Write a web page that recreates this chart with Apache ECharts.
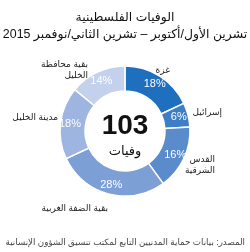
<!DOCTYPE html>
<html>
<head>
<meta charset="utf-8">
<script src="https://cdn.jsdelivr.net/npm/echarts@6/dist/echarts.min.js"></script>
<style>
  html, body { margin: 0; padding: 0; background: #fff; }
  #main { width: 250px; height: 252px; }
</style>
</head>
<body>
<div id="main"></div>
<script>
// regions, clockwise from 12 o'clock
var regions = ['غزة', 'إسرائيل', 'القدس\nالشرقية', 'بقية الضفة الغربية', 'مدينة الخليل', 'بقية محافظة\nالخليل'];
var shares = [18, 6, 16, 28, 18, 14];
var colors = ['#1f6fbf', '#3d7ec6', '#5a8bcb', '#7c9fd6', '#9db5e0', '#c3d1ec'];
var totalDeaths = 103;
var totalLabel = 'وفيات';
var titleLines = ['الوفيات الفلسطينية', 'تشرين الأول/أكتوبر – تشرين الثاني/نوفمبر 2015'];
var sourceText = 'المصدر: بيانات حماية المدنيين التابع لمكتب تنسيق الشؤون الإنسانية';

var font = 'Liberation Sans, DejaVu Sans, sans-serif';
// right edge / middle of each region name
var namePos = [[170, 71], [222, 113], [215, 165], [108, 209], [58, 118], [88, 70]];

var pieData = [];
var nameData = [];
for (var i = 0; i < regions.length; i++) {
    pieData.push({ name: regions[i], value: shares[i], itemStyle: { color: colors[i] } });
    nameData.push({ name: regions[i], value: shares[i] });
}

var chart = echarts.init(document.getElementById('main'));
chart.setOption({
    animation: false,
    title: {
        text: titleLines.join('\n'),
        left: 'center',
        top: 4,
        textStyle: { fontFamily: font, fontSize: 12.4, fontWeight: 'normal', color: '#111', lineHeight: 17 }
    },
    graphic: [
        {
            type: 'text', left: 'center', top: 112,
            style: { text: String(totalDeaths), font: 'bold 28px ' + font, fill: '#111' }
        },
        {
            type: 'text', left: 'center', top: 145,
            style: { text: totalLabel, font: '13px ' + font, fill: '#111' }
        },
        {
            type: 'text', right: 5, top: 238,
            style: { text: sourceText, font: '8.7px ' + font, fill: '#444' }
        }
    ],
    series: [
        {
            type: 'pie',
            center: [125, 131],
            radius: [40, 65],
            startAngle: 90,
            clockwise: true,
            silent: true,
            itemStyle: { borderColor: '#fff', borderWidth: 1.5 },
            label: {
                position: 'inside',
                formatter: '{c}%',
                color: '#fff',
                fontFamily: font,
                fontSize: 11
            },
            labelLine: { show: false },
            data: pieData
        },
        {
            type: 'pie',
            center: [125, 131],
            radius: [40, 65],
            startAngle: 90,
            clockwise: true,
            silent: true,
            itemStyle: { color: 'transparent' },
            label: {
                position: 'outside',
                formatter: '{b}',
                color: '#222',
                fontFamily: font,
                fontSize: 9,
                lineHeight: 11,
                overflow: 'none',
                align: 'right'
            },
            labelLine: { show: false },
            labelLayout: function (p) {
                var pos = namePos[p.dataIndex];
                return { x: pos[0], y: pos[1], align: 'right', verticalAlign: 'middle', hideOverlap: false };
            },
            data: nameData
        }
    ]
});
</script>
</body>
</html>
